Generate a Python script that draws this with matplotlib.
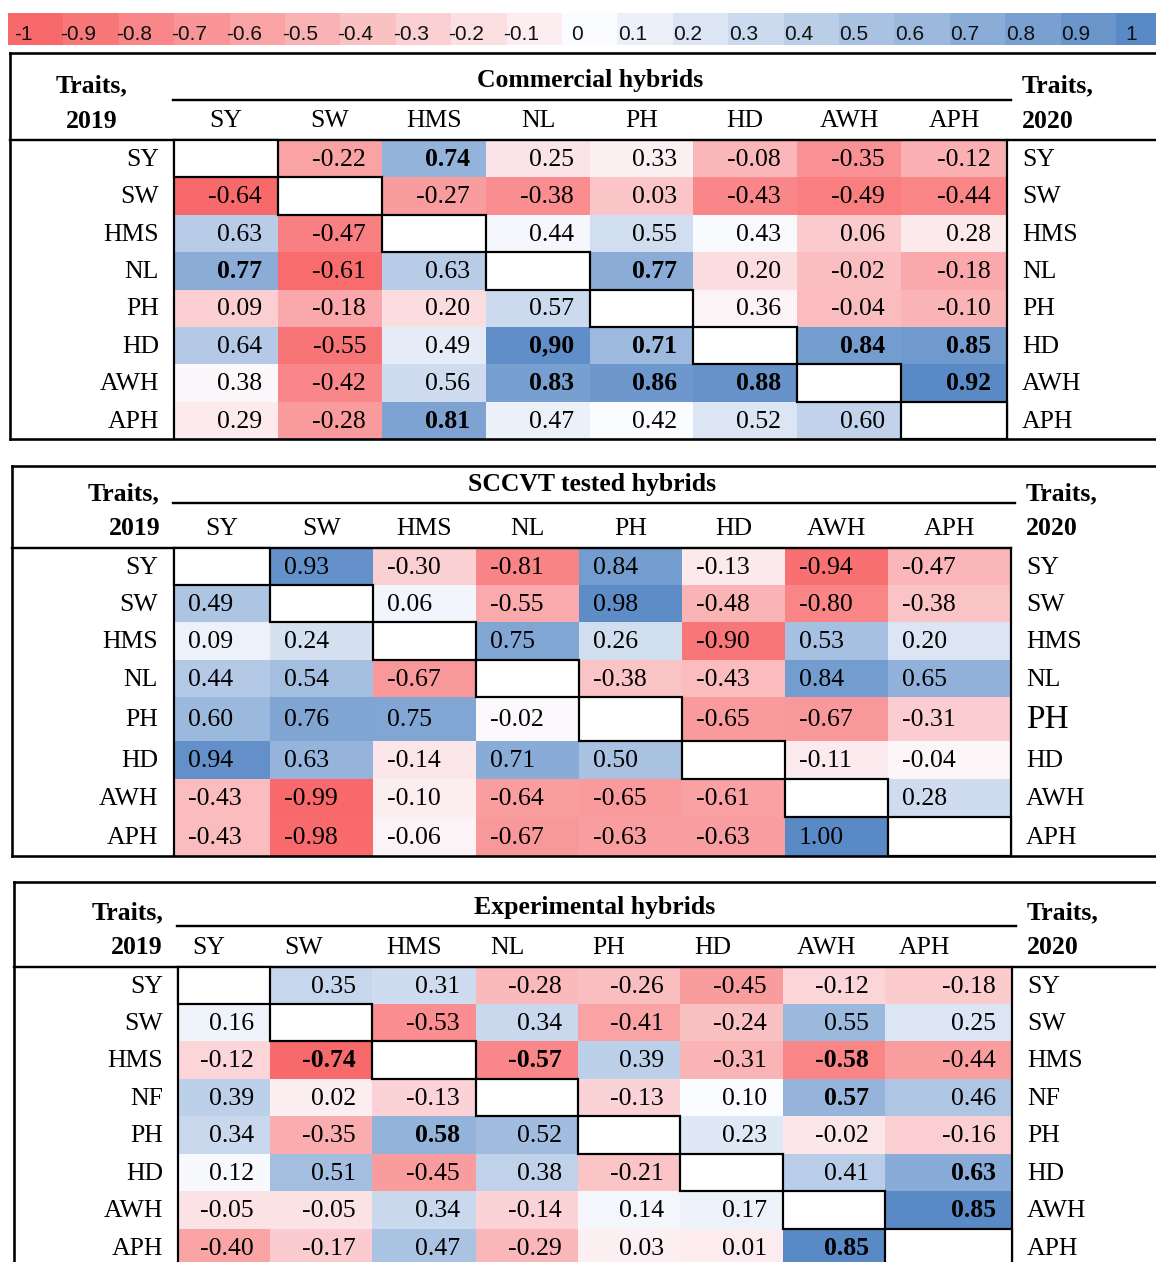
import numpy as np
import matplotlib
matplotlib.use("Agg")
import matplotlib.pyplot as plt
from matplotlib.colors import LinearSegmentedColormap, TwoSlopeNorm, Normalize
from matplotlib.patches import Rectangle

# ---------------------------------------------------------------- data
traits = ["SY", "SW", "HMS", "NL", "PH", "HD", "AWH", "APH"]
traits_exp_rows = ["SY", "SW", "HMS", "NF", "PH", "HD", "AWH", "APH"]
nan = np.nan

# Commercial hybrids: lower triangle 2019, upper triangle 2020
commercial = [
    [nan, -0.22, 0.74, 0.25, 0.33, -0.08, -0.35, -0.12],
    [-0.64, nan, -0.27, -0.38, 0.03, -0.43, -0.49, -0.44],
    [0.63, -0.47, nan, 0.44, 0.55, 0.43, 0.06, 0.28],
    [0.77, -0.61, 0.63, nan, 0.77, 0.20, -0.02, -0.18],
    [0.09, -0.18, 0.20, 0.57, nan, 0.36, -0.04, -0.10],
    [0.64, -0.55, 0.49, 0.90, 0.71, nan, 0.84, 0.85],
    [0.38, -0.42, 0.56, 0.83, 0.86, 0.88, nan, 0.92],
    [0.29, -0.28, 0.81, 0.47, 0.42, 0.52, 0.60, nan],
]
commercial_bold = [(0, 2), (3, 0), (3, 4), (5, 3), (5, 4), (5, 6), (5, 7),
                   (6, 3), (6, 4), (6, 5), (6, 7), (7, 2)]
commercial_comma = [(5, 3)]

# SCCVT tested hybrids
sccvt = [
    [nan, 0.93, -0.30, -0.81, 0.84, -0.13, -0.94, -0.47],
    [0.49, nan, 0.06, -0.55, 0.98, -0.48, -0.80, -0.38],
    [0.09, 0.24, nan, 0.75, 0.26, -0.90, 0.53, 0.20],
    [0.44, 0.54, -0.67, nan, -0.38, -0.43, 0.84, 0.65],
    [0.60, 0.76, 0.75, -0.02, nan, -0.65, -0.67, -0.31],
    [0.94, 0.63, -0.14, 0.71, 0.50, nan, -0.11, -0.04],
    [-0.43, -0.99, -0.10, -0.64, -0.65, -0.61, nan, 0.28],
    [-0.43, -0.98, -0.06, -0.67, -0.63, -0.63, 1.00, nan],
]
sccvt_bold = []

# Experimental hybrids
experimental = [
    [nan, 0.35, 0.31, -0.28, -0.26, -0.45, -0.12, -0.18],
    [0.16, nan, -0.53, 0.34, -0.41, -0.24, 0.55, 0.25],
    [-0.12, -0.74, nan, -0.57, 0.39, -0.31, -0.58, -0.44],
    [0.39, 0.02, -0.13, nan, -0.13, 0.10, 0.57, 0.46],
    [0.34, -0.35, 0.58, 0.52, nan, 0.23, -0.02, -0.16],
    [0.12, 0.51, -0.45, 0.38, -0.21, nan, 0.41, 0.63],
    [-0.05, -0.05, 0.34, -0.14, 0.14, 0.17, nan, 0.85],
    [-0.40, -0.17, 0.47, -0.29, 0.03, 0.01, 0.85, nan],
]
experimental_bold = [(2, 1), (2, 3), (2, 6), (3, 6), (4, 2), (5, 7), (6, 7), (7, 6)]

scale_ticks = [-1, -0.9, -0.8, -0.7, -0.6, -0.5, -0.4, -0.3, -0.2, -0.1, 0,
               0.1, 0.2, 0.3, 0.4, 0.5, 0.6, 0.7, 0.8, 0.9, 1]

# ---------------------------------------------------------------- style
W, H = 1156, 1262
PX = 0.72  # points per pixel at dpi 100
SERIF = "Liberation Serif"
FS = 18.5
cmap = LinearSegmentedColormap.from_list("rwb", ["#F8696B", "#FCFCFF", "#5A8AC6"])
cmap.set_bad("white")

fig = plt.figure(figsize=(W / 100, H / 100), dpi=100)
ax = fig.add_axes([0, 0, 1, 1])
ax.set_xlim(0, W)
ax.set_ylim(H, 0)
ax.axis("off")


def hline(y, x0, x1, lw=2.0):
    ax.plot([x0, x1], [y, y], color="black", lw=lw * PX, solid_capstyle="projecting")


def vline(x, y0, y1, lw=2.0):
    ax.plot([x, x], [y0, y1], color="black", lw=lw * PX, solid_capstyle="projecting")


def txt(x, y, s, ha="center", bold=False, size=FS, family=SERIF):
    # y is the visual middle of capital letters / digits
    ax.text(x, y + size / PX * 0.28, s, ha=ha, va="baseline", fontsize=size,
            family=family, fontweight="bold" if bold else "normal", color="black")


# ---------------------------------------------------------------- colour key
key_left, key_w, key_top, key_bot = 8, 55.4, 13, 45
key_edges = key_left + key_w * np.arange(len(scale_ticks) + 1)
ax.pcolormesh(key_edges, [key_top, key_bot], np.array([scale_ticks], dtype=float),
              cmap=cmap, norm=Normalize(-1, 1), shading="flat",
              edgecolors="none", antialiased=False)
for k, v in enumerate(scale_ticks):
    ax.text(key_edges[k] + 15, 34, f"{v:g}", ha="center", va="center",
            fontsize=15, family=["Liberation Sans Narrow", "Liberation Sans"],
            color="#111111")


# ---------------------------------------------------------------- tables
def draw_table(values, bold, comma, title, row_labels, lay):
    vals = np.array(values, dtype=float)
    m = np.ma.masked_invalid(vals)
    norm = TwoSlopeNorm(vmin=np.nanmin(vals), vcenter=lay["center"], vmax=np.nanmax(vals))
    xe = np.array(lay["cols"], dtype=float)
    ye = np.array(lay["rows"], dtype=float)
    ax.pcolormesh(xe, ye, m, cmap=cmap, norm=norm, shading="flat",
                  edgecolors="none", antialiased=False)

    n = len(row_labels)
    for i in range(n):
        yc = (ye[i] + ye[i + 1]) / 2
        # diagonal box
        ax.add_patch(Rectangle((xe[i], ye[i]), xe[i + 1] - xe[i], ye[i + 1] - ye[i],
                               facecolor="white", edgecolor="black", lw=2.2 * PX, zorder=3))
        txt(lay["row_x"], yc, row_labels[i], ha="right")
        rsize = lay.get("right_sizes", {}).get(i, FS)
        txt(lay["right_x"], yc, row_labels[i], ha="left", size=rsize)
        for j in range(n):
            if i == j:
                continue
            lab = f"{vals[i, j]:.2f}"
            if (i, j) in comma:
                lab = lab.replace(".", ",")
            if lay["val_align"] == "right":
                x, ha = xe[j + 1] - 16, "right"
            else:
                x, ha = xe[j] + 14, "left"
            txt(x, yc, lab, ha=ha, bold=(i, j) in bold)

    # column headers
    for j, name in enumerate(traits):
        if lay["col_align"] == "center":
            txt((xe[j] + xe[j + 1]) / 2, lay["colhdr_y"], name)
        else:
            txt(xe[j] + 14, lay["colhdr_y"], name, ha="left")

    # title and corner headings
    txt((xe[0] + xe[-1]) / 2 + lay.get("title_dx", 0), lay["title_y"], title, bold=True)
    tx, tha = lay["traits_x"]
    txt(tx, lay["traits_y"][0], "Traits,", ha=tha, bold=True)
    txt(tx, lay["traits_y"][1], "2019", ha=tha, bold=True)
    txt(lay["right_x"], lay["traits_y"][0], "Traits,", ha="left", bold=True)
    txt(lay["right_x"], lay["traits_y"][1], "2020", ha="left", bold=True)

    # rules
    hline(lay["top"], lay["left"], W + 10, 2.6)
    if lay["bottom"] < H:
        hline(lay["bottom"], lay["left"], W + 10, 2.6)
    vline(lay["left"], lay["top"], min(lay["bottom"], H + 10), 2.6)
    hline(lay["head_y"], xe[0] - 1, xe[-1] + 4, 2.4)
    hline(ye[0], lay["left"], lay["data_line_end"], 2.4)
    vline(xe[0], ye[0], min(ye[-1], H + 10), 2.2)
    vline(xe[-1], ye[0], min(ye[-1], H + 10), 2.2)


draw_table(commercial, commercial_bold, commercial_comma, "Commercial hybrids", traits, dict(
    center=0.42, left=10, top=53, bottom=439, head_y=100,
    cols=[174, 278, 382, 486, 590, 693, 797, 901, 1007],
    rows=np.linspace(140, 439, 9),
    title_y=80, colhdr_y=120, traits_y=(85, 121), traits_x=(92, "center"),
    right_x=1022, row_x=159, val_align="right", col_align="center",
    data_line_end=W + 10))

draw_table(sccvt, sccvt_bold, [], "SCCVT tested hybrids", traits, dict(
    center=0.0, left=12, top=466, bottom=856, head_y=503,
    cols=[174, 270, 373, 476, 579, 682, 785, 888, 1011],
    rows=[548, 585, 622, 660, 697, 741, 779, 817, 856],
    title_y=484, colhdr_y=528, traits_y=(493, 528), traits_x=(160, "right"),
    right_x=1026, row_x=158, val_align="left", col_align="center",
    right_sizes={4: 24}, data_line_end=1011))

draw_table(experimental, experimental_bold, [], "Experimental hybrids", traits_exp_rows, dict(
    center=0.1, left=14, top=882, bottom=1300, head_y=926,
    cols=[178, 270, 372, 476, 578, 680, 783, 885, 1012],
    rows=[967, 1004, 1041, 1079, 1116, 1154, 1191, 1229, 1266],
    title_y=907, colhdr_y=947, traits_y=(912, 947), traits_x=(163, "right"),
    right_x=1027, row_x=163, val_align="right", col_align="left",
    data_line_end=W + 10))

fig.savefig("out.png", dpi=100)
